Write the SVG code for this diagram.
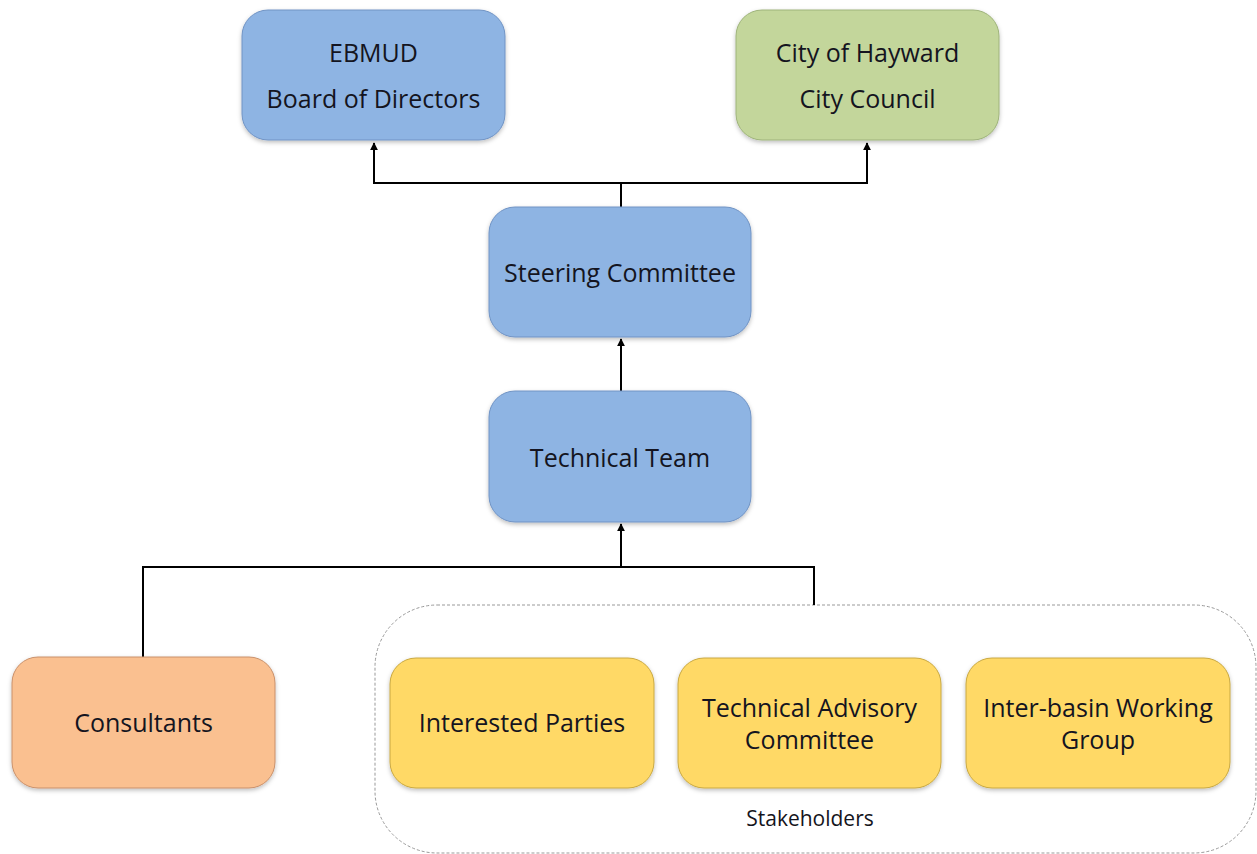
<svg xmlns="http://www.w3.org/2000/svg" width="1257" height="854" viewBox="0 0 1257 854">
<defs>
<marker id="arr" viewBox="0 0 10 10" refX="9" refY="5" markerWidth="8" markerHeight="8" markerUnits="userSpaceOnUse" orient="auto">
<path d="M0,0 L10,5 L0,10 z" fill="#000"/>
</marker>
<filter id="sh" x="-10%" y="-10%" width="120%" height="130%">
<feDropShadow dx="0" dy="2" stdDeviation="2" flood-color="#000" flood-opacity="0.25"/>
</filter>
</defs>
<style>
.box{stroke-width:1;filter:url(#sh)}
.blue{fill:#8EB4E3;stroke:#7093C4}
.green{fill:#C3D69B;stroke:#9EB37A}
.orange{fill:#FAC090;stroke:#C9906A}
.yellow{fill:#FFD966;stroke:#C9A840}
text{font-family:"Open Sans","Noto Sans",sans-serif;font-size:25px;fill:#141420;text-anchor:middle;dominant-baseline:central}
.small{font-size:21px}
.conn{fill:none;stroke:#000;stroke-width:2}
</style>
<rect width="1257" height="854" fill="#fff"/>
<g id="stakeholders">
<rect x="375" y="605" width="881" height="248" rx="62" ry="62" fill="none" stroke="#999" stroke-width="1" stroke-dasharray="3,2"/>
<text class="small" x="810" y="818">Stakeholders</text>
</g>
<g id="connectors">
<polyline class="conn" points="621,207 621,183 374,183 374,143" marker-end="url(#arr)"/>
<polyline class="conn" points="621,183 867,183 867,143" marker-end="url(#arr)"/>
<line class="conn" x1="621" y1="391" x2="621" y2="339" marker-end="url(#arr)"/>
<polyline class="conn" points="143,658 143,567 621,567 621,524" marker-end="url(#arr)"/>
<polyline class="conn" points="814,605 814,567 621,567"/>
</g>
<g id="ebmud">
<rect class="box blue" x="242" y="10" width="263" height="130" rx="26"/>
<text x="373.5" y="52">EBMUD</text>
<text x="373.5" y="98">Board of Directors</text>
</g>
<g id="hayward">
<rect class="box green" x="736" y="10" width="263" height="130" rx="26"/>
<text x="867.5" y="52">City of Hayward</text>
<text x="867.5" y="98">City Council</text>
</g>
<g id="steering">
<rect class="box blue" x="489" y="207" width="262" height="130" rx="26"/>
<text x="620" y="272">Steering Committee</text>
</g>
<g id="technical">
<rect class="box blue" x="489" y="391" width="262" height="131" rx="26"/>
<text x="620" y="457">Technical Team</text>
</g>
<g id="consultants">
<rect class="box orange" x="12" y="657" width="263" height="131" rx="26"/>
<text x="143.5" y="722">Consultants</text>
</g>
<g id="interested">
<rect class="box yellow" x="390" y="658" width="264" height="130" rx="26"/>
<text x="522" y="722">Interested Parties</text>
</g>
<g id="tac">
<rect class="box yellow" x="678" y="658" width="263" height="130" rx="26"/>
<text x="809.5" y="707">Technical Advisory</text>
<text x="809.5" y="739">Committee</text>
</g>
<g id="interbasin">
<rect class="box yellow" x="966" y="658" width="264" height="130" rx="26"/>
<text x="1098" y="707">Inter-basin Working</text>
<text x="1098" y="739">Group</text>
</g>
</svg>
